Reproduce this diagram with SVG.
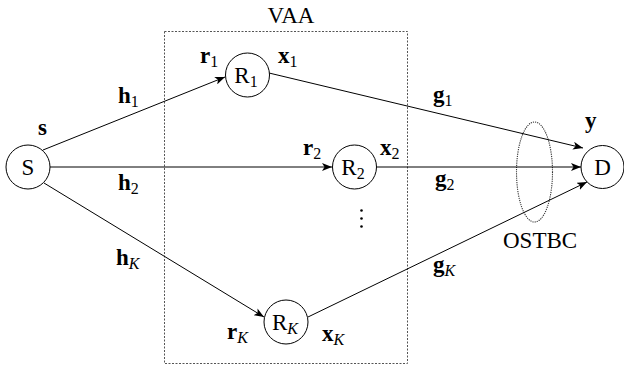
<svg xmlns="http://www.w3.org/2000/svg" width="624" height="370" viewBox="0 0 624 370">
<style>
text{font-family:"Liberation Serif","Times New Roman",serif;font-size:23px;fill:#000}
.b{font-weight:bold}
.sub{font-size:16px;font-weight:normal}
.it{font-style:italic}
.node{fill:#fff;stroke:#000;stroke-width:1}
.edge{stroke:#000;stroke-width:1;fill:none;marker-end:url(#arr)}
</style>
<defs>
<marker id="arr" viewBox="0 0 10 8" refX="10" refY="4" markerWidth="10" markerHeight="8" markerUnits="userSpaceOnUse" orient="auto">
<path d="M0,0 L10,4 L0,8 L2.5,4 Z" fill="#000"/>
</marker>
</defs>
<rect id="vaa" x="164.5" y="31.5" width="243" height="332" fill="none" stroke="#555" stroke-width="1" stroke-dasharray="2,1.5"/>
<text x="291" y="23" text-anchor="middle">VAA</text>
<ellipse id="ostbc" cx="534.5" cy="172" rx="18" ry="50" fill="none" stroke="#333" stroke-width="1.1" stroke-dasharray="1.2,1"/>
<g id="connectors">
<line class="edge" x1="43" y1="150" x2="225" y2="77"/>
<line class="edge" x1="50" y1="167" x2="332" y2="167"/>
<line class="edge" x1="44" y1="183" x2="264" y2="317"/>
<line class="edge" x1="269" y1="73" x2="583" y2="148"/>
<line class="edge" x1="377" y1="167" x2="581" y2="167"/>
<line class="edge" x1="308" y1="317" x2="587" y2="182"/>
</g>
<g id="S"><circle class="node" cx="28" cy="167" r="22"/><text x="28" y="175" text-anchor="middle">S</text></g>
<g id="R1"><circle class="node" cx="247.5" cy="75" r="22"/><text x="246" y="83" text-anchor="middle">R<tspan class="sub" dy="4">1</tspan></text></g>
<g id="R2"><circle class="node" cx="354.5" cy="167" r="22"/><text x="353" y="175" text-anchor="middle">R<tspan class="sub" dy="4">2</tspan></text></g>
<g id="RK"><circle class="node" cx="286" cy="322" r="22"/><text x="285" y="330" text-anchor="middle">R<tspan class="sub it" dy="4">K</tspan></text></g>
<g id="D"><circle class="node" cx="602.5" cy="167" r="21.5"/><text x="602.5" y="175" text-anchor="middle">D</text></g>
<g id="labels">
<text class="b" x="38" y="135">s</text>
<text class="b" x="118" y="103">h<tspan class="sub" dy="4">1</tspan></text>
<text class="b" x="118" y="190">h<tspan class="sub" dy="4">2</tspan></text>
<text class="b" x="116" y="265">h<tspan class="sub it" dy="4">K</tspan></text>
<text class="b" x="200" y="63">r<tspan class="sub" dy="4">1</tspan></text>
<text class="b" x="278" y="63">x<tspan class="sub" dy="4">1</tspan></text>
<text class="b" x="303" y="155">r<tspan class="sub" dy="4">2</tspan></text>
<text class="b" x="380" y="155">x<tspan class="sub" dy="4">2</tspan></text>
<text class="b" x="227" y="339">r<tspan class="sub it" dy="4">K</tspan></text>
<text class="b" x="322" y="341">x<tspan class="sub it" dy="4">K</tspan></text>
<text class="b" x="433" y="102">g<tspan class="sub" dy="4">1</tspan></text>
<text class="b" x="435" y="186">g<tspan class="sub" dy="4">2</tspan></text>
<text class="b" x="433" y="272">g<tspan class="sub it" dy="4">K</tspan></text>
<text class="b" x="585" y="128">y</text>
<text x="503" y="248">OSTBC</text>
<circle cx="361.5" cy="210.5" r="1.3"/>
<circle cx="361.5" cy="218.5" r="1.3"/>
<circle cx="361.5" cy="226.5" r="1.3"/>
</g>
</svg>
